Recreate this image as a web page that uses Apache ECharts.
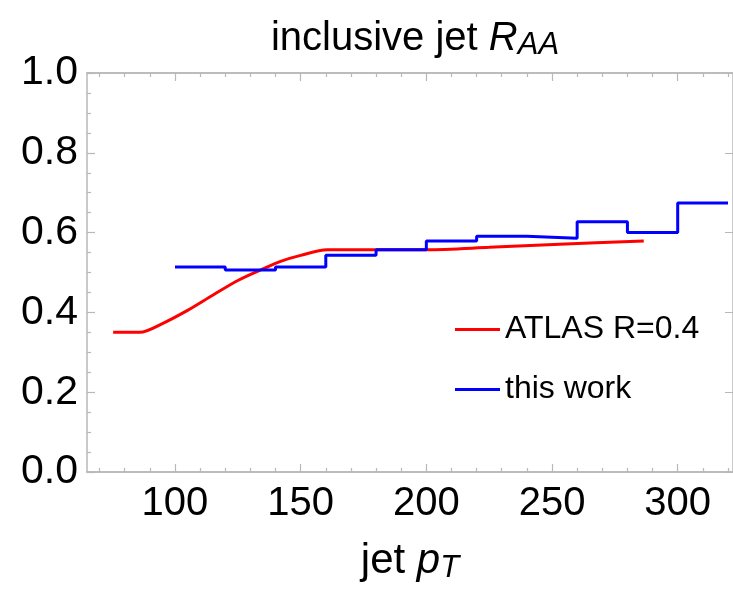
<!DOCTYPE html>
<html>
<head>
<meta charset="utf-8">
<script src="https://cdn.jsdelivr.net/npm/echarts@6/dist/echarts.min.js"></script>
<style>html,body{margin:0;padding:0;background:#fff}#c{width:733px;height:593px}</style>
</head>
<body>
<div id="c"></div>
<script>
// ---- data ----
const binEdges = [100, 120, 140, 160, 180, 200, 220, 240, 260, 280, 300, 320];
const thisWork = [0.514, 0.506, 0.514, 0.543, 0.557, 0.579, 0.591, 0.586, 0.627, 0.600, 0.674];
const atlasPt = [75.4, 86, 95, 105, 115, 125, 135, 142, 150, 160.5, 180, 200, 225, 253, 286.5];
const atlasR  = [0.350, 0.350, 0.372, 0.405, 0.443, 0.480, 0.509, 0.528, 0.543, 0.557, 0.557, 0.557, 0.563, 0.571, 0.579];
const xMajorTicks = [100, 150, 200, 250, 300];
const xMinorTicks = [70, 80, 90, 110, 120, 130, 140, 160, 170, 180, 190, 210, 220, 230, 240, 260, 270, 280, 290, 310, 320];
const seriesNames = ['ATLAS R=0.4', 'this work'];

// ---- build ----
const bluePts = binEdges.map((x, i) => [x, thisWork[Math.min(i, thisWork.length - 1)]]);
const redPts = atlasPt.map((x, i) => [x, atlasR[i]]);

const FONT = 'Liberation Sans';
const frameColor = '#b8b8b8';
const xMin = 65, xMax = 322;

function xAx(pos, major, labels) {
  return {
    type: 'value', min: xMin, max: xMax, position: pos,
    axisLine: { show: true, onZero: false, lineStyle: { color: frameColor, width: 1.5 } },
    splitLine: { show: false },
    axisTick: { show: true, inside: true, length: major ? 8 : 4,
      customValues: major ? xMajorTicks : xMinorTicks,
      lineStyle: { color: frameColor, width: 1.2 } },
    axisLabel: labels ? { show: true, customValues: xMajorTicks, fontFamily: FONT, fontSize: 40, color: '#000', margin: 12 } : { show: false }
  };
}

const chart = echarts.init(document.getElementById('c'), null, { renderer: 'canvas' });
chart.setOption({
  animation: false,
  backgroundColor: '#fff',
  title: {
    text: '{a|inclusive jet }{r|R}{s|AA}',
    left: 410, textAlign: 'center', top: 12,
    textStyle: {
      rich: {
        a: { fontFamily: FONT, fontSize: 40, fontWeight: 'normal', lineHeight: 44, color: '#000' },
        r: { fontFamily: FONT, fontSize: 40, fontWeight: 'normal', lineHeight: 44, fontStyle: 'italic', color: '#000' },
        s: { fontFamily: FONT, fontSize: 31, fontWeight: 'normal', lineHeight: 22, verticalAlign: 'bottom', fontStyle: 'italic', color: '#000' }
      }
    }
  },
  grid: { left: 87, right: 0, top: 73, bottom: 121, containLabel: false },
  legend: {
    orient: 'vertical', left: 450, top: 307,
    itemWidth: 45, itemHeight: 3, itemGap: 25, icon: 'rect',
    textStyle: { fontFamily: FONT, fontSize: 32, lineHeight: 35, color: '#000' },
    data: seriesNames
  },
  xAxis: [
    Object.assign(xAx('bottom', true, true), {
      name: '{a|jet }{p|p}{t|T}', nameLocation: 'middle', nameGap: 66,
      nameTextStyle: { rich: {
        a: { fontFamily: FONT, fontSize: 42, lineHeight: 46, color: '#000' },
        p: { fontFamily: FONT, fontSize: 42, lineHeight: 46, fontStyle: 'italic', color: '#000' },
        t: { fontFamily: FONT, fontSize: 31, lineHeight: 22, verticalAlign: 'bottom', fontStyle: 'italic', color: '#000' }
      } }
    }),
    xAx('bottom', false, false),
    xAx('top', true, false),
    xAx('top', false, false)
  ],
  yAxis: [
    {
      type: 'value', min: 0, max: 1, interval: 0.2, position: 'left',
      axisLine: { show: true, onZero: false, lineStyle: { color: frameColor, width: 1.5 } },
      splitLine: { show: false },
      axisTick: { show: true, inside: true, length: 8, lineStyle: { color: frameColor, width: 1.2 } },
      minorTick: { show: true, splitNumber: 4, length: 4, lineStyle: { color: frameColor, width: 1.2 } },
      axisLabel: { fontFamily: FONT, fontSize: 41, color: '#000', margin: 9, formatter: v => v.toFixed(1) }
    },
    {
      type: 'value', min: 0, max: 1, interval: 0.2, position: 'right',
      axisLine: { show: true, onZero: false, lineStyle: { color: frameColor, width: 1.5 } },
      splitLine: { show: false },
      axisTick: { show: true, inside: true, length: 8, lineStyle: { color: frameColor } },
      axisLabel: { show: false }
    }
  ],
  series: [
    {
      name: seriesNames[0], type: 'line', data: redPts, xAxisIndex: 0, yAxisIndex: 0,
      symbol: 'none', smooth: 0.3,
      lineStyle: { color: '#ff0000', width: 3 }, itemStyle: { color: '#ff0000' }
    },
    {
      name: seriesNames[1], type: 'line', data: bluePts, xAxisIndex: 0, yAxisIndex: 0,
      symbol: 'none', step: 'end',
      lineStyle: { color: '#0000ff', width: 3 }, itemStyle: { color: '#0000ff' }
    }
  ]
});
</script>
</body>
</html>
